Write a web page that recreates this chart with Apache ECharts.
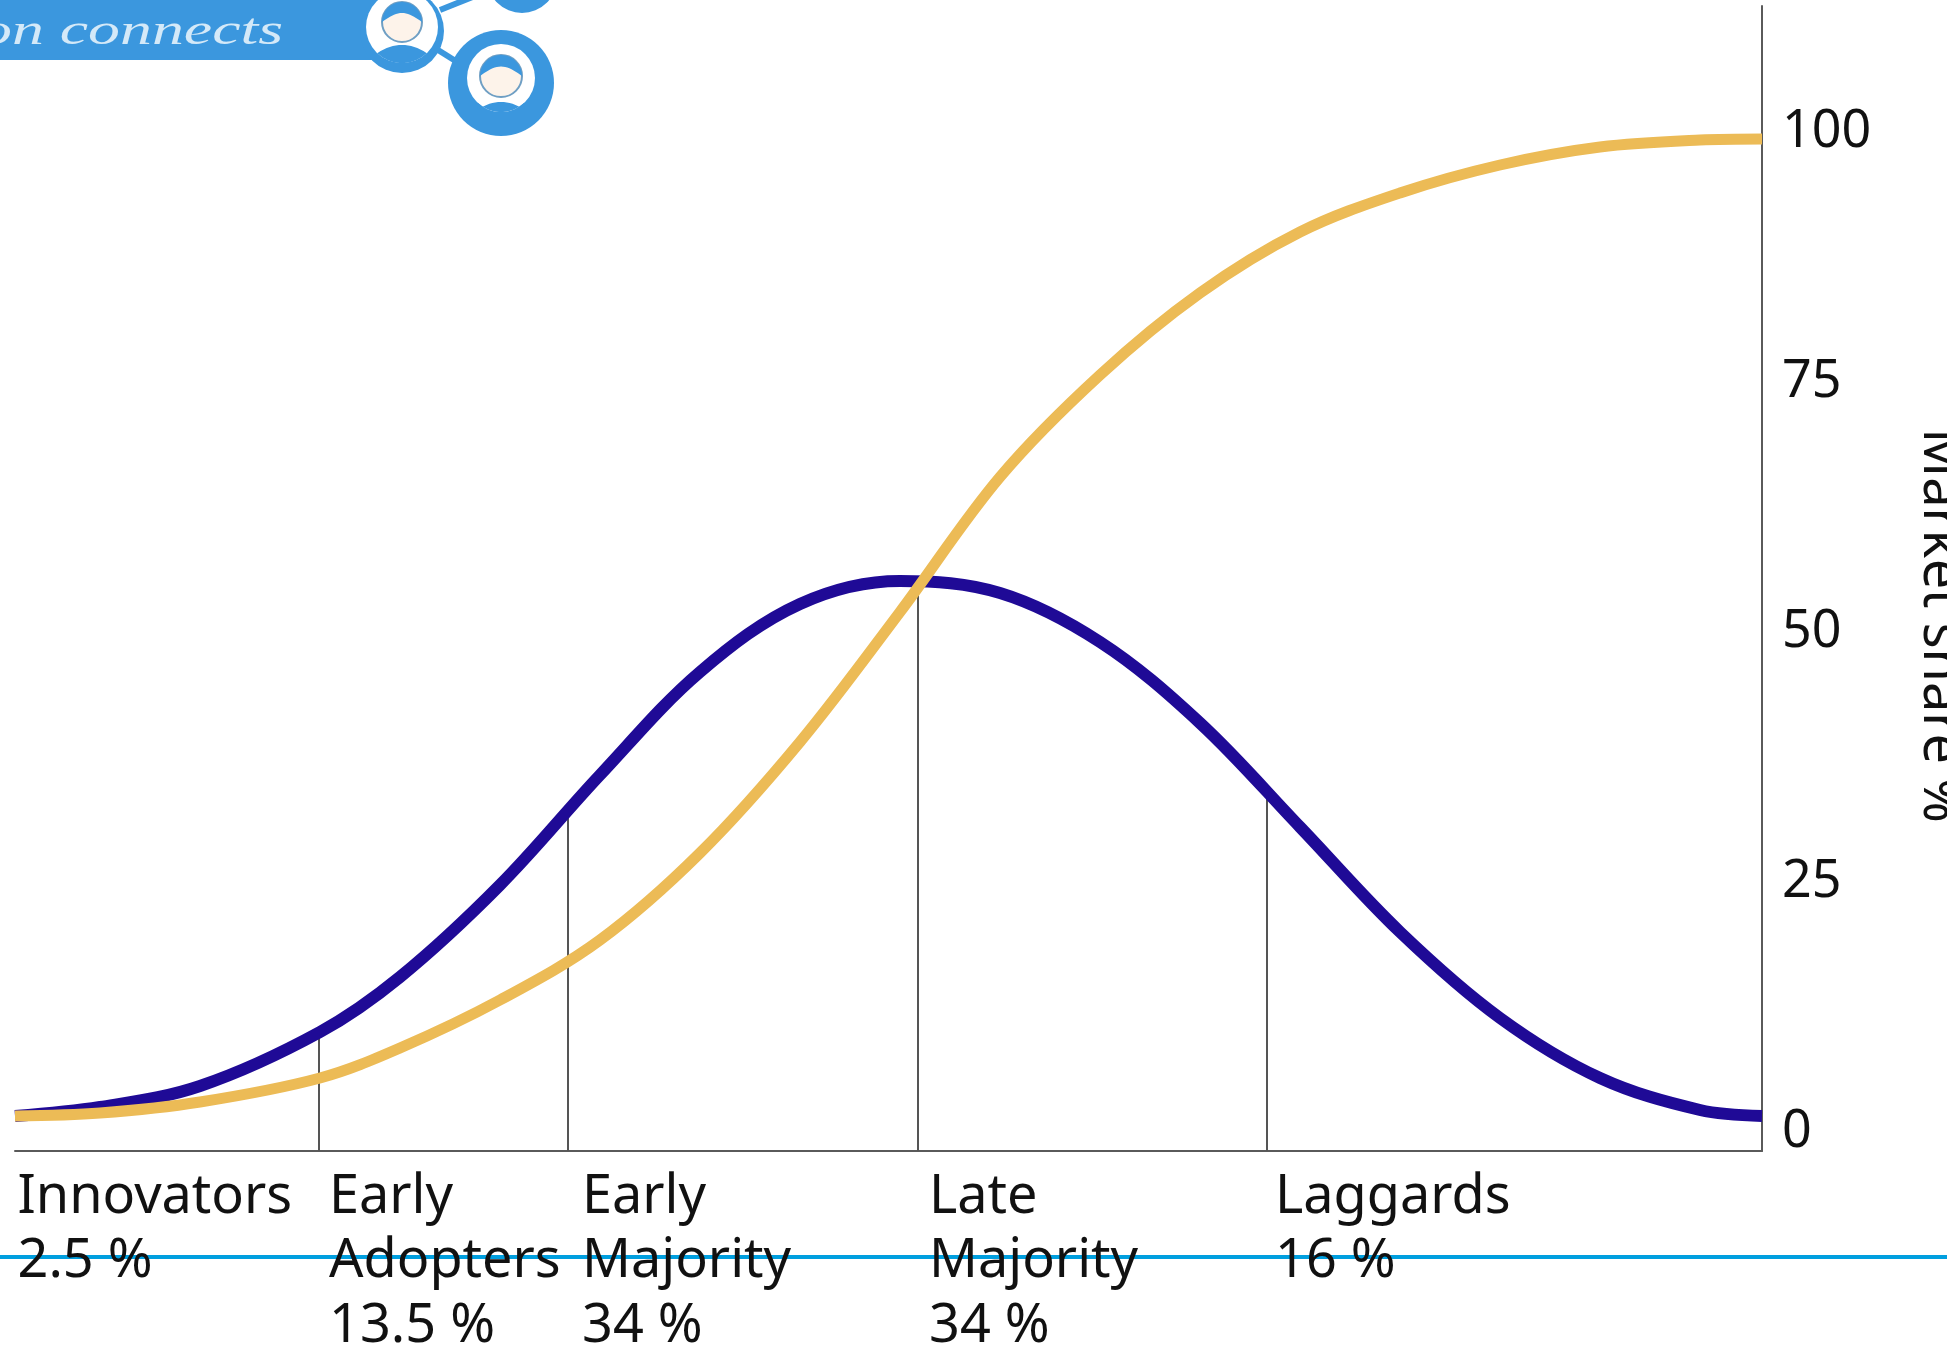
<!DOCTYPE html>
<html>
<head>
<meta charset="utf-8">
<style>html,body{margin:0;padding:0;background:#fff}#c{width:1947px;height:1354px}</style>
<script src="https://cdn.jsdelivr.net/npm/echarts@6/dist/echarts.min.js"></script>
</head>
<body>
<div id="c"></div>
<script>
const adoptionX = [0,85,185,305,385,485,585,685,785,885,985,1085,1185,1285,1385,1485,1585,1685,1747];
const adoptionY = [1.6,2.5,4.6,10.0,15.5,24.7,35.7,46.0,52.8,55.1,53.9,49.0,40.9,30.5,20.0,11.4,5.4,2.2,1.6];
const shareX = [0,85,185,305,385,485,585,685,785,885,985,1085,1185,1285,1385,1485,1585,1685,1747];
const shareY = [1.6,1.9,3.0,5.4,8.4,13.2,19.2,27.9,39.0,52.0,65.5,75.7,83.9,90.0,93.9,96.7,98.5,99.2,99.3];
const dividerX = [304,553,903,1252];
const dividerTop = [10.0,32.4,54.0,34.2];
const groupLabelX = [2.5,314,567,914,1260];
const groupLabels = ['Innovators\n2.5 %','Early\nAdopters\n13.5 %','Early\nMajority\n34 %','Late\nMajority\n34 %','Laggards\n16 %'];
const yTicks = [0,25,50,75,100];
const yName = 'Market share %';
const bannerText = 'ion connects';

const FONT = '"Noto Sans","Open Sans",sans-serif';
const BLUE = '#3b97de';

function bodyPts(ix, iy, ir, top) {
  const pts = [];
  const half = ir*0.68;
  for (let i=0;i<=16;i++){
    const t=i/16, x=ix-half+2*half*t;
    pts.push([x, top + Math.pow(Math.abs(2*t-1),2)*ir*0.22]);
  }
  const a0 = Math.acos(0.68);
  for (let i=0;i<=24;i++){
    const ang = a0*(1-i/24) + (Math.PI-a0)*(i/24);
    pts.push([ix+ir*Math.cos(ang), iy+ir*Math.sin(ang)]);
  }
  return pts;
}
function hairPts(cx, cy, r) {
  const pts = [];
  for (let i=0;i<=20;i++){ const a=Math.PI+Math.PI*i/20; pts.push([cx+r*Math.cos(a), cy+r*Math.sin(a)]); }
  for (let i=1;i<20;i++){ const t=i/20; pts.push([cx+r-2*r*t, cy-r*0.45*Math.sin(Math.PI*t)]); }
  return pts;
}
function avatar(cx, cy, R, ix, iy, ir, hr, bodyTop, hy) {
  return [
    {type:'circle', shape:{cx, cy, r:R}, style:{fill:BLUE}, z:1, silent:true},
    {type:'circle', shape:{cx:ix, cy:iy, r:ir}, style:{fill:'#fff'}, z:2, silent:true},
    {type:'polygon', shape:{points:bodyPts(ix,iy,ir,bodyTop)}, style:{fill:BLUE}, z:3, silent:true},
    {type:'circle', shape:{cx:ix, cy:hy, r:hr}, style:{fill:'#fdf3ea', stroke:'#6f9fc4', lineWidth:2}, z:4, silent:true},
    {type:'polygon', shape:{points:hairPts(ix,hy,hr)}, style:{fill:BLUE}, z:5, silent:true}
  ];
}

const chart = echarts.init(document.getElementById('c'), null, {renderer:'canvas', width:1947, height:1354});
chart.setOption({
  animation:false,
  backgroundColor:'#fff',
  grid:{left:15, right:185, top:6, bottom:203, containLabel:false, outerBoundsMode:'none'},
  xAxis:{
    type:'value', min:0, max:1747,
    axisLine:{show:true, onZero:false, lineStyle:{color:'#5a5a5a', width:2}},
    axisTick:{show:false}, splitLine:{show:false},
    axisLabel:{
      customValues:groupLabelX, align:'left', verticalAlign:'top', margin:14,
      color:'#111', fontFamily:FONT, fontSize:54, lineHeight:64.5,
      formatter:v => groupLabels[groupLabelX.indexOf(v)] || ''
    }
  },
  yAxis:{
    type:'value', position:'right', min:-1.9, max:112.6,
    axisLine:{show:true, onZero:false, lineStyle:{color:'#5a5a5a', width:2}},
    axisTick:{show:false}, splitLine:{show:false},
    axisLabel:{customValues:yTicks, margin:20, color:'#111', fontFamily:FONT, fontSize:52},
    name:yName, nameLocation:'middle', nameRotate:-90, nameGap:150,
    nameTextStyle:{color:'#111', fontFamily:FONT, fontSize:54, padding:[0,0,0,94]}
  },
  series:[
    {type:'line', name:'Adoption', data:adoptionX.map((x,i)=>[x,adoptionY[i]]), smooth:0.35, showSymbol:false, symbol:'none', silent:true, z:3,
     lineStyle:{color:'#1f0a96', width:12, cap:'butt'},
     markLine:{silent:true, symbol:'none', animation:false, z:2, label:{show:false},
       lineStyle:{color:'#555', width:2, type:'solid'},
       data:dividerX.map((x,i)=>[{coord:[x,-1.9]},{coord:[x,dividerTop[i]]}])}},
    {type:'line', name:'Market share', data:shareX.map((x,i)=>[x,shareY[i]]), smooth:0.35, showSymbol:false, symbol:'none', silent:true, z:4,
     lineStyle:{color:'#ecbb56', width:11, cap:'butt'}}
  ],
  graphic:[
    {type:'rect', shape:{x:0,y:1255,width:1947,height:4}, style:{fill:'#009fdf'}, z:-1, silent:true},
    {type:'rect', shape:{x:0,y:0,width:380,height:60}, style:{fill:BLUE}, z:0, silent:true},
    {type:'text', x:283, y:32, scaleX:1.45, silent:true, z:1,
      style:{text:bannerText, fill:'#d4e9f8', font:'italic 44px "Liberation Serif", serif', textAlign:'right', textVerticalAlign:'middle'}},
    {type:'line', shape:{x1:430,y1:45,x2:470,y2:70}, style:{stroke:BLUE,lineWidth:6}, z:0, silent:true},
    {type:'line', shape:{x1:440,y1:10,x2:490,y2:-10}, style:{stroke:BLUE,lineWidth:6}, z:0, silent:true},
    {type:'circle', shape:{cx:522,cy:-22,r:35}, style:{fill:BLUE}, z:1, silent:true},
    ...avatar(402,31,42,402,27,36,20,45,22),
    ...avatar(501,83,53,501,78,34,21,102,76)
  ]
});
</script>
</body>
</html>
